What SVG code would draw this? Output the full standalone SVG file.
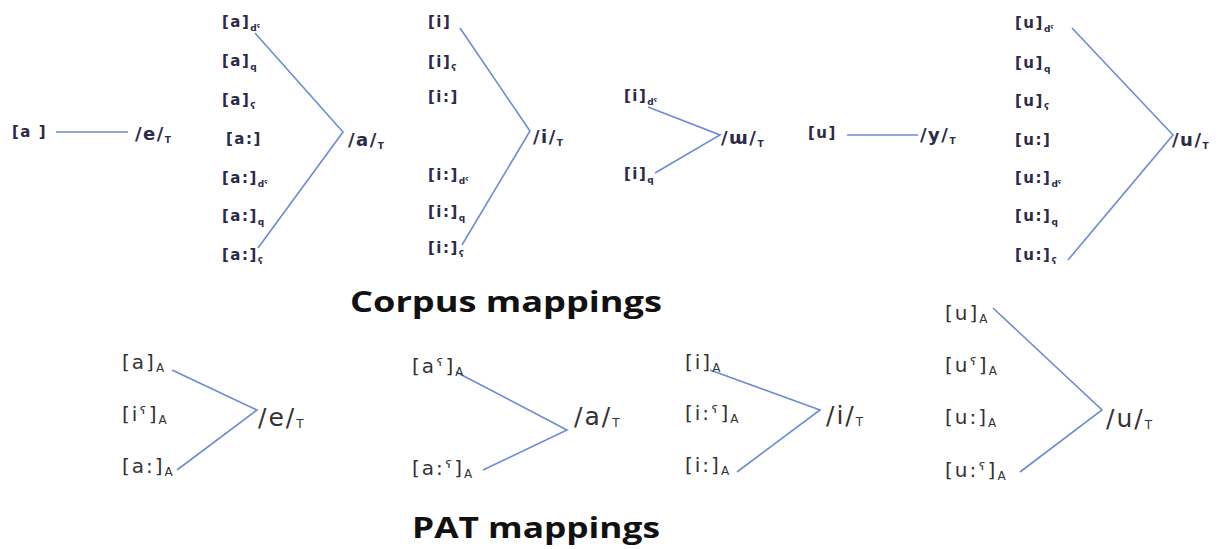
<svg xmlns="http://www.w3.org/2000/svg" width="1226" height="549" viewBox="0 0 1226 549">
<style>
.t{font-family:"DejaVu Sans",Verdana,sans-serif;font-weight:bold;font-size:15px;fill:#2c2a48;letter-spacing:1.5px}
.ts{font-size:9px;letter-spacing:0}
.tt{font-size:18px;letter-spacing:1.5px}
.p{font-family:"DejaVu Sans",Verdana,sans-serif;font-size:20px;fill:#333;letter-spacing:2px}
.ps{font-size:12px;letter-spacing:0}
.pt{font-size:25px;letter-spacing:2px}
.h{font-family:"Open Sans","Liberation Sans",sans-serif;font-weight:bold;font-size:28px;fill:#111}
.c{stroke:#6b8bd6;stroke-width:1.6;fill:none}
</style>
<g id="connectors">
<line class="c" x1="56" y1="132" x2="128" y2="132"/>
<polyline class="c" points="255,33 343,132 258,248"/>
<polyline class="c" points="460,28 530,131 462,245"/>
<polyline class="c" points="648,107 720,135 655,173"/>
<line class="c" x1="847" y1="135" x2="918" y2="135"/>
<polyline class="c" points="1072,28 1173,135 1068,260"/>
<polyline class="c" points="172,370 257,410 177,470"/>
<polyline class="c" points="456,372 567,430 483,470"/>
<polyline class="c" points="710,370 820,410 737,472"/>
<polyline class="c" points="993,308 1102,410 1020,472"/>
</g>
<g id="corpus-e">
<text class="t" x="12" y="137">[a ]</text>
<text class="t tt" x="135" y="140">/e/<tspan class="ts" dy="3">T</tspan></text>
</g>
<g id="corpus-a">
<text class="t" x="222" y="27">[a]<tspan class="ts" dy="4">dˤ</tspan></text>
<text class="t" x="222" y="66">[a]<tspan class="ts" dy="4">q</tspan></text>
<text class="t" x="222" y="105">[a]<tspan class="ts" dy="4">ʕ</tspan></text>
<text class="t" x="226" y="144">[a:]</text>
<text class="t" x="222" y="183">[a:]<tspan class="ts" dy="4">dˤ</tspan></text>
<text class="t" x="222" y="221">[a:]<tspan class="ts" dy="4">q</tspan></text>
<text class="t" x="222" y="260">[a:]<tspan class="ts" dy="4">ʕ</tspan></text>
<text class="t tt" x="348" y="146">/a/<tspan class="ts" dy="3">T</tspan></text>
</g>
<g id="corpus-i">
<text class="t" x="428" y="27">[i]</text>
<text class="t" x="428" y="67">[i]<tspan class="ts" dy="4">ʕ</tspan></text>
<text class="t" x="428" y="102">[i:]</text>
<text class="t" x="428" y="180">[i:]<tspan class="ts" dy="4">dˤ</tspan></text>
<text class="t" x="428" y="217">[i:]<tspan class="ts" dy="4">q</tspan></text>
<text class="t" x="428" y="253">[i:]<tspan class="ts" dy="4">ʕ</tspan></text>
<text class="t tt" x="533" y="143">/i/<tspan class="ts" dy="3">T</tspan></text>
</g>
<g id="corpus-uu">
<text class="t" x="624" y="101">[i]<tspan class="ts" dy="4">dˤ</tspan></text>
<text class="t" x="624" y="179">[i]<tspan class="ts" dy="4">q</tspan></text>
<text class="t tt" x="721" y="144">/ɯ/<tspan class="ts" dy="3">T</tspan></text>
</g>
<g id="corpus-y">
<text class="t" x="808" y="138">[u]</text>
<text class="t tt" x="920" y="141">/y/<tspan class="ts" dy="3">T</tspan></text>
</g>
<g id="corpus-u">
<text class="t" x="1015" y="28">[u]<tspan class="ts" dy="4">dˤ</tspan></text>
<text class="t" x="1015" y="68">[u]<tspan class="ts" dy="4">q</tspan></text>
<text class="t" x="1015" y="106">[u]<tspan class="ts" dy="4">ʕ</tspan></text>
<text class="t" x="1015" y="145">[u:]</text>
<text class="t" x="1015" y="183">[u:]<tspan class="ts" dy="4">dˤ</tspan></text>
<text class="t" x="1015" y="221">[u:]<tspan class="ts" dy="4">q</tspan></text>
<text class="t" x="1015" y="260">[u:]<tspan class="ts" dy="4">ʕ</tspan></text>
<text class="t tt" x="1172" y="146">/u/<tspan class="ts" dy="3">T</tspan></text>
</g>
<text id="corpus-title" class="h" x="350" y="312" textLength="312" lengthAdjust="spacingAndGlyphs">Corpus mappings</text>
<g id="pat-e">
<text class="p" x="122" y="369">[a]<tspan class="ps" dy="3">A</tspan></text>
<text class="p" x="122" y="421">[iˤ]<tspan class="ps" dy="3">A</tspan></text>
<text class="p" x="122" y="473">[a:]<tspan class="ps" dy="3">A</tspan></text>
<text class="p pt" x="258" y="426">/e/<tspan class="ps" dy="2">T</tspan></text>
</g>
<g id="pat-a">
<text class="p" x="412" y="373">[aˤ]<tspan class="ps" dy="3">A</tspan></text>
<text class="p" x="412" y="475">[a:ˤ]<tspan class="ps" dy="3">A</tspan></text>
<text class="p pt" x="574" y="425">/a/<tspan class="ps" dy="2">T</tspan></text>
</g>
<g id="pat-i">
<text class="p" x="685" y="369">[i]<tspan class="ps" dy="3">A</tspan></text>
<text class="p" x="685" y="420">[i:ˤ]<tspan class="ps" dy="3">A</tspan></text>
<text class="p" x="685" y="472">[i:]<tspan class="ps" dy="3">A</tspan></text>
<text class="p pt" x="826" y="424">/i/<tspan class="ps" dy="2">T</tspan></text>
</g>
<g id="pat-u">
<text class="p" x="945" y="320">[u]<tspan class="ps" dy="3">A</tspan></text>
<text class="p" x="945" y="372">[uˤ]<tspan class="ps" dy="3">A</tspan></text>
<text class="p" x="945" y="424">[u:]<tspan class="ps" dy="3">A</tspan></text>
<text class="p" x="945" y="477">[u:ˤ]<tspan class="ps" dy="3">A</tspan></text>
<text class="p pt" x="1106" y="427">/u/<tspan class="ps" dy="2">T</tspan></text>
</g>
<text id="pat-title" class="h" x="412" y="538" textLength="248" lengthAdjust="spacingAndGlyphs">PAT mappings</text>
</svg>
